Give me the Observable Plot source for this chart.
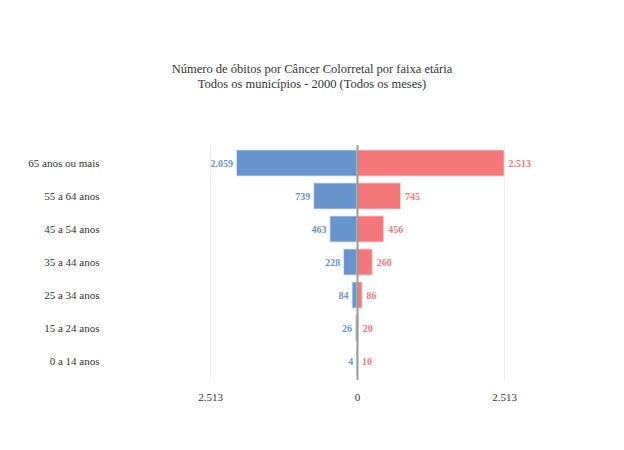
<!DOCTYPE html>
<html>
<head>
<meta charset="utf-8">
<script src="https://cdn.jsdelivr.net/npm/d3@7"></script>
<script src="https://cdn.jsdelivr.net/npm/@observablehq/plot@0.6"></script>
<style>
  html, body { margin: 0; padding: 0; background: #fff; }
  #wrap { position: relative; width: 624px; height: 450px; font-family: "Liberation Serif", "Times New Roman", serif; }
  #title { position: absolute; top: 62px; left: 0; width: 624px; text-align: center; font-size: 12.5px; line-height: 15px; color: #333; }
  #chart { position: absolute; top: 0; left: 0; }
  #chart svg, #chart svg text { font-family: "Liberation Serif", "Times New Roman", serif !important; }
</style>
</head>
<body>
<div id="wrap">
  <div id="chart"></div>
  <div id="title">Número de óbitos por Câncer Colorretal por faixa etária<br>Todos os municípios - 2000 (Todos os meses)</div>
</div>
<script>
const categories = ["65 anos ou mais", "55 a 64 anos", "45 a 54 anos", "35 a 44 anos", "25 a 34 anos", "15 a 24 anos", "0 a 14 anos"];
const leftValues = [2059, 739, 463, 228, 84, 26, 4];
const rightValues = [2513, 745, 456, 260, 86, 20, 10];
const xTicks = [-2513, 0, 2513];

const blue = "#6794cd";
const red = "#f4777a";
const serif = "'Liberation Serif', 'Times New Roman', serif";

const fmt = d3.formatLocale({decimal: ",", thousands: ".", grouping: [3], currency: ["R$", ""]}).format(",d");

const leftRows = categories.map((c, i) => ({cat: c, v: -leftValues[i], label: fmt(leftValues[i])}));
const rightRows = categories.map((c, i) => ({cat: c, v: rightValues[i], label: fmt(rightValues[i])}));

const chart = Plot.plot({
  width: 624,
  height: 450,
  marginTop: 145,
  marginBottom: 70,
  marginLeft: 105,
  marginRight: 15,
  style: {fontFamily: serif, fontSize: "11px", color: "#333", background: "transparent"},
  x: {domain: [-4308, 4308], label: null},
  y: {domain: categories, paddingInner: 0.2, paddingOuter: 0.1, label: null},
  marks: [
    Plot.ruleX(xTicks, {stroke: "#eee", strokeWidth: 1}),
    Plot.axisX({ticks: xTicks, tickFormat: d => fmt(Math.abs(d)), tickSize: 0, tickPadding: 13, label: null, fontFamily: serif, fontSize: 11, fill: "#333"}),
    Plot.axisY({tickSize: 0, tickPadding: 6, label: null, fontFamily: serif, fontSize: 11, fill: "#333"}),
    Plot.barX(leftRows, {x: "v", y: "cat", fill: blue, stroke: "#dbe6f5", strokeWidth: 0.8}),
    Plot.barX(rightRows, {x: "v", y: "cat", fill: red, stroke: "#fbd3d4", strokeWidth: 0.8}),
    Plot.ruleX([0], {stroke: "#999", strokeWidth: 2}),
    Plot.text(leftRows, {x: "v", y: "cat", text: "label", textAnchor: "end", dx: -4, fill: blue, fontWeight: "bold", fontSize: 10, fontFamily: serif}),
    Plot.text(rightRows, {x: "v", y: "cat", text: "label", textAnchor: "start", dx: 4, fill: red, fontWeight: "bold", fontSize: 10, fontFamily: serif})
  ]
});
document.getElementById("chart").appendChild(chart);
</script>
</body>
</html>
